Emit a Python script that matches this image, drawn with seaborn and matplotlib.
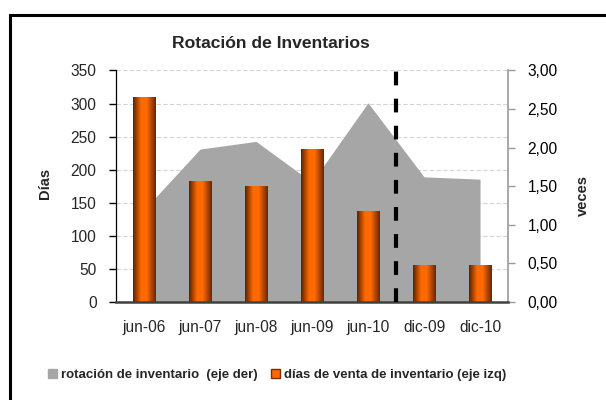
import matplotlib
matplotlib.use("Agg")
import matplotlib.pyplot as plt
import numpy as np
import pandas as pd
import seaborn as sns
from matplotlib.colors import LinearSegmentedColormap
from matplotlib.patches import Patch, Rectangle

sns.set_theme(style="white")
plt.rcParams["font.family"] = ["Liberation Sans", "DejaVu Sans"]

# datos
periodos = ["jun-06", "jun-07", "jun-08", "jun-09", "jun-10", "dic-09", "dic-10"]
dias_venta = [310, 183, 175, 231, 138, 56, 56]
rotacion = [1.19, 1.98, 2.08, 1.55, 2.58, 1.62, 1.59]
ticks_izq = [0, 50, 100, 150, 200, 250, 300, 350]
ticks_der = [0.0, 0.5, 1.0, 1.5, 2.0, 2.5, 3.0]

GRIS = "#A6A6A6"
NARANJA = "#FF6600"
TICK_FS = 11.2

df = pd.DataFrame({"periodo": periodos, "dias": dias_venta, "rotacion": rotacion})

fig = plt.figure(figsize=(6.06, 4.0), dpi=100)
pos = [0.1914, 0.2458, 0.6469, 0.578]

# capa 1: cuadricula
ax_grid = fig.add_axes(pos)
# capa 2: area (eje der)
ax_area = ax_grid.twinx()
# capa 3: barras (eje izq)
ax_bar = ax_grid.twinx()

xs = np.arange(len(periodos))
ax_area.fill_between(xs, df["rotacion"], 0, color=GRIS, linewidth=0)
ax_area.set_ylim(0, 3)
ax_area.set_yticks(ticks_der)
ax_area.set_yticklabels([f"{t:.2f}".replace(".", ",") for t in ticks_der])
ax_area.tick_params(axis="y", right=True, length=5, width=1, color="#9A9A9A",
                    pad=9, labelsize=TICK_FS, labelcolor="black", direction="out")
for s in ["top", "left", "bottom"]:
    ax_area.spines[s].set_visible(False)
ax_area.spines["right"].set_color("#9A9A9A")
ax_area.spines["right"].set_linewidth(1.2)

sns.barplot(data=df, x="periodo", y="dias", ax=ax_bar, width=0.4,
            color=NARANJA, saturation=1, linewidth=0)
ax_bar.set_ylim(0, 350)
ax_bar.set_xlim(-0.5, len(periodos) - 0.5)

# degradado de las barras
cmap = LinearSegmentedColormap.from_list(
    "naranja", [(0, "#5e2200"), (0.35, "#ff6a00"), (0.6, "#ff6a00"), (1, "#6a2600")])
grad = np.linspace(0, 1, 64).reshape(1, -1)
for bar in list(ax_bar.patches):
    x0, y0 = bar.get_x(), bar.get_y()
    w, h = bar.get_width(), bar.get_height()
    im = ax_bar.imshow(grad, cmap=cmap, extent=(x0, x0 + w, y0, y0 + h),
                       aspect="auto", zorder=bar.get_zorder() + 0.1)
    im.set_clip_path(bar)
ax_bar.set_ylim(0, 350)
ax_bar.set_xlim(-0.5, len(periodos) - 0.5)

ax_bar.axvline(4.5, color="black", linewidth=3, dashes=(3.3, 3.2), zorder=5)

ax_bar.xaxis.set_visible(True)
ax_bar.set_xlabel("")
ax_bar.set_ylabel("")
ax_bar.yaxis.set_visible(False)
for s in ["top", "left", "right"]:
    ax_bar.spines[s].set_visible(False)
ax_bar.spines["bottom"].set_color("#404040")
ax_bar.spines["bottom"].set_linewidth(1.8)
ax_bar.tick_params(axis="x", length=0, pad=13, labelsize=TICK_FS)

ax_grid.set_ylim(0, 350)
ax_grid.set_yticks(ticks_izq)
ax_grid.yaxis.grid(True, color="#D4D4D4", linestyle=(0, (4, 2)), linewidth=0.8)
ax_grid.tick_params(axis="y", left=True, length=5, width=1, color="black",
                    pad=9, labelsize=TICK_FS, direction="out")
ax_grid.tick_params(axis="x", bottom=False, labelbottom=False)
for s in ["top", "right", "bottom"]:
    ax_grid.spines[s].set_visible(False)
ax_grid.spines["left"].set_color("black")
ax_grid.spines["left"].set_linewidth(0.9)

fig.text(0.4467, 0.8925, "Rotación de Inventarios", ha="center", va="center",
         fontsize=12.6, fontweight="bold")
fig.text(0.0745, 0.542, "Días", rotation=90, ha="center", va="center",
         fontsize=10.5, fontweight="bold")
fig.text(0.962, 0.512, "veces", rotation=90, ha="center", va="center",
         fontsize=10.5, fontweight="bold")

handles = [Patch(facecolor=GRIS, edgecolor=GRIS),
           Patch(facecolor=NARANJA, edgecolor="#7a2e00")]
labels = ["rotación de inventario  (eje der)",
          "días de venta de inventario (eje izq)"]
fig.legend(handles, labels, loc="center", bbox_to_anchor=(0.457, 0.0625), ncol=2,
           frameon=False, handlelength=0.7, handleheight=0.7, handletextpad=0.3,
           columnspacing=1.0, prop={"size": 9.5, "weight": "bold"})

fig.patches.append(Rectangle((0.0165, -0.2), 1.5, 1.1625, transform=fig.transFigure,
                             fill=False, edgecolor="black", linewidth=2.2))

fig.savefig("out.png", dpi=100)
